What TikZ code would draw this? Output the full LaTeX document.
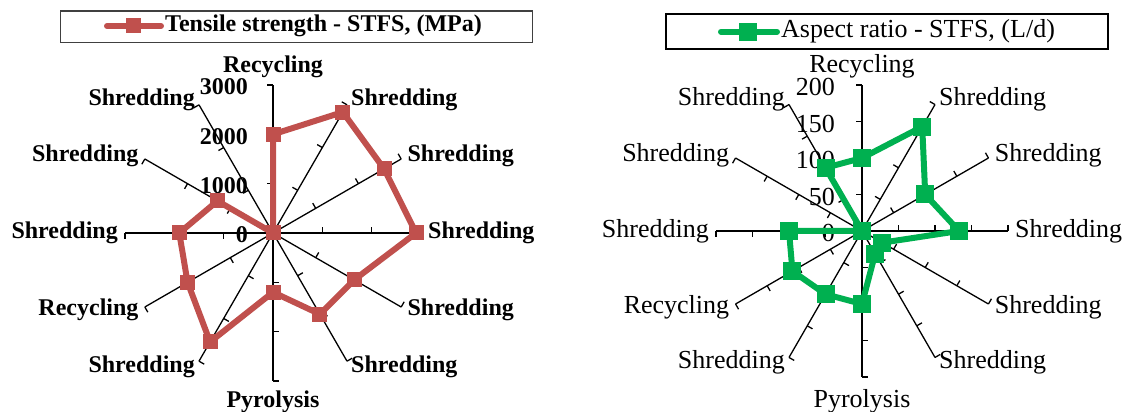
\documentclass[tikz,border=0pt]{standalone}
\usepackage{fontspec}
\setmainfont{Liberation Serif}
\usetikzlibrary{calc}
\definecolor{tsred}{RGB}{192,80,77}
\definecolor{argreen}{RGB}{0,176,80}
\newcommand\tsfont{\bfseries\fontsize{24}{28}\selectfont}
\newcommand\arfont{\fontsize{26}{30}\selectfont}
\tikzset{
	axisline/.style={line width=1.3pt, black},
	redline/.style={line width=6pt, tsred, line join=round},
	greenline/.style={line width=6pt, argreen, line join=round},
	catlabel/.style={inner sep=1pt},
}

\begin{document}
\begin{tikzpicture}[x=1pt, y=1pt]
			\useasboundingbox (0,0) rectangle (1127,412);
			
			%%%%% TENSILE STRENGTH %%%%%
			
			\coordinate (L) at (273,179);
			\foreach \a in {0,30,...,330} {
				\draw[axisline] (L) -- ($(L)+(\a:148)$);
				\foreach \k in {1,2,3}
					\draw[axisline] ($(L)+(\a:\k*49.333)$) -- ++(\a+90:6);
			}
			
			\foreach \v [count=\k from 0] in {0,1000,2000,3000}
				\node[anchor=east, inner sep=0pt, font=\tsfont] at ($(L)+(-25,\k*49.333-2)$) {\v};
			
			\foreach \a/\txt/\anc/\d in {90/Recycling/south/6, 60/Shredding/west/6, 30/Shredding/west/6,
					0/Shredding/west/6, -30/Shredding/west/6, -60/Shredding/west/6, -90/Pyrolysis/north/9,
					-120/Shredding/east/6, -150/Recycling/east/6, 180/Shredding/east/6,
					150/Shredding/east/6, 120/Shredding/east/6}
				\node[catlabel, anchor=\anc, font=\tsfont] at ($(L)+(\a:148+\d)$) {\txt};
			
			\begin{scope}[shift={(L)}]
				\draw[redline] (90:2000*0.049333)
					\foreach \a/\v in {60/2830, 30/2600, 0/2900, -30/1900, -60/1900, -90/1200,
						-120/2550, -150/2000, 180/1900, 150/1300, 120/0} { -- (\a:\v*0.049333) } -- cycle;
				\foreach \a/\v in {90/2000, 60/2830, 30/2600, 0/2900, -30/1900, -60/1900, -90/1200,
						-120/2550, -150/2000, 180/1900, 150/1300, 120/0}
					\fill[tsred] (\a:\v*0.049333) ++(-7.5,-7.5) rectangle ++(15,15);
			\end{scope}
			
			\draw[line width=1.2pt, black!75] (60.7,369.7) rectangle (532.7,401);
			\draw[redline, line cap=round] (107,386) -- (161,386);
			\fill[tsred] (126,378.5) rectangle (141,393.5);
			\node[anchor=west, inner sep=0pt, font=\tsfont] at (165,386) {Tensile strength - STFS, (MPa)};
			
			%%%%% ASPECT RATIO %%%%%
			
			\coordinate (R) at (862,181);
			\foreach \a in {0,30,...,330} {
				\draw[axisline] (R) -- ($(R)+(\a:146)$);
				\foreach \k in {1,2,3,4}
					\draw[axisline] ($(R)+(\a:\k*36.5)$) -- ++(\a+90:6);
			}
			
			\foreach \v [count=\k from 0] in {0,50,100,150,200}
				\node[anchor=east, inner sep=0pt, font=\arfont] at ($(R)+(-27,\k*36.5-2)$) {\v};
			
			\foreach \a/\txt/\anc/\d in {90/Recycling/south/6, 60/Shredding/west/6, 30/Shredding/west/6,
					0/Shredding/west/6, -30/Shredding/west/6, -60/Shredding/west/6, -90/Pyrolysis/north/11,
					-120/Shredding/east/6, -150/Recycling/east/6, 180/Shredding/east/6,
					150/Shredding/east/6, 120/Shredding/east/6}
				\node[catlabel, anchor=\anc, font=\arfont] at ($(R)+(\a:146+\d)$) {\txt};
			
			\begin{scope}[shift={(R)}]
				\draw[greenline] (90:100*0.73)
					\foreach \a/\v in {60/165, 30/100, 0/133, -30/32, -60/36, -90/100,
						-120/100, -150/110, 180/100, 150/0, 120/100} { -- (\a:\v*0.73) } -- cycle;
				\foreach \a/\v in {90/100, 60/165, 30/100, 0/133, -30/32, -60/36, -90/100,
						-120/100, -150/110, 180/100, 150/0, 120/100}
					\fill[argreen] (\a:\v*0.73) ++(-9,-9) rectangle ++(18,18);
			\end{scope}
			
			\draw[line width=2pt, black] (665.7,362.7) rectangle (1107.7,397.7);
			\draw[greenline, line cap=round] (721,380.3) -- (777,380.3);
			\fill[argreen] (739,371.3) rectangle (757,389.3);
			\node[anchor=west, inner sep=0pt, font=\arfont] at (781,380.3) {Aspect ratio - STFS, (L/d)};
			
			%%%%% END %%%%%
\end{tikzpicture}
\end{document}
